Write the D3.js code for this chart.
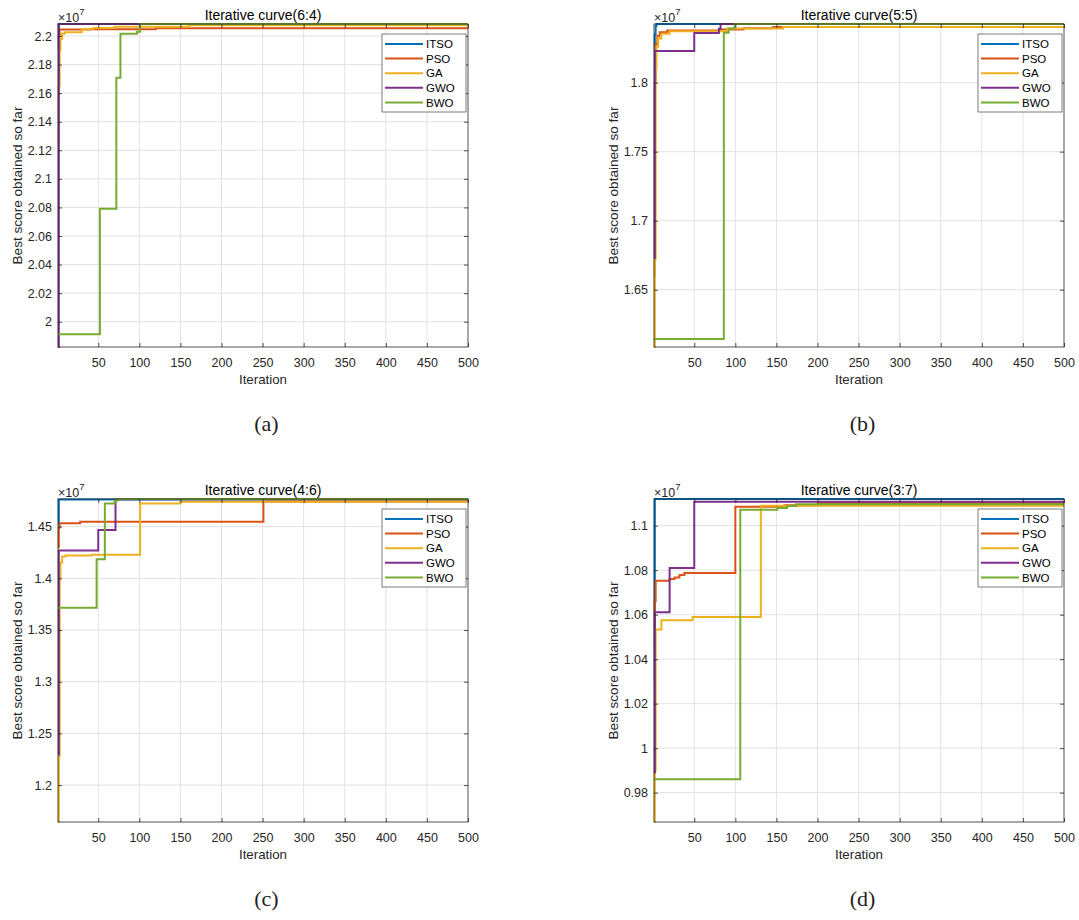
<!DOCTYPE html>
<html><head><meta charset="utf-8">
<script src="https://cdn.jsdelivr.net/npm/d3@7"></script>
<style>body{margin:0;background:#fff} svg{display:block}</style>
</head><body>
<svg id="chart" width="1079" height="920"></svg>
<script>
// ---------- DATA (scores in units of 1e7) ----------
const seriesNames = ["ITSO", "PSO", "GA", "GWO", "BWO"];
const seriesColors = ["#0072BD", "#D95319", "#EDB120", "#7E2F8E", "#77AC30"];
const xTicks = [50, 100, 150, 200, 250, 300, 350, 400, 450, 500];
const iterRange = [1, 500];
const panelTitles = ["Iterative curve(6:4)", "Iterative curve(5:5)", "Iterative curve(4:6)", "Iterative curve(3:7)"];
const panelCaptions = ["(a)", "(b)", "(c)", "(d)"];

const yTicks_a = [2, 2.02, 2.04, 2.06, 2.08, 2.1, 2.12, 2.14, 2.16, 2.18, 2.2];
const yTicks_b = [1.65, 1.7, 1.75, 1.8];
const yTicks_c = [1.2, 1.25, 1.3, 1.35, 1.4, 1.45];
const yTicks_d = [0.98, 1, 1.02, 1.04, 1.06, 1.08, 1.1];

// (a) 6:4  — [iteration, best score]
const itso_a = [[1, 2.190], [2, 2.2084], [500, 2.2084]];
const pso_a  = [[1, 2.1975], [2, 2.2000], [3, 2.2045], [40, 2.2048], [120, 2.2055], [500, 2.2055]];
const ga_a   = [[1, 2.125], [2, 2.165], [3, 2.190], [4, 2.198], [6, 2.2015], [9, 2.2026], [30, 2.2047], [44, 2.2056], [70, 2.2065], [160, 2.2075], [500, 2.2075]];
const gwo_a  = [[1, 1.9823], [2, 2.2084], [500, 2.2084]];
const bwo_a  = [[1, 1.9912], [52, 2.0790], [72, 2.1708], [77, 2.2016], [97, 2.2030], [101, 2.2084], [500, 2.2084]];

// (b) 5:5
const itso_b = [[1, 1.8237], [2, 1.8350], [3, 1.8410], [4, 1.8425], [500, 1.8425]];
const pso_b  = [[1, 1.660], [2, 1.800], [3, 1.828], [5, 1.834], [8, 1.8365], [17, 1.8378], [80, 1.8385], [110, 1.8395], [146, 1.8403], [500, 1.8405]];
const ga_b   = [[1, 1.6085], [2, 1.672], [3, 1.810], [4, 1.826], [6, 1.832], [10, 1.8355], [20, 1.8372], [90, 1.8392], [158, 1.8403], [500, 1.8403]];
const gwo_b  = [[1, 1.673], [2, 1.8230], [50, 1.8360], [80, 1.8390], [82, 1.8425], [500, 1.8425]];
const bwo_b  = [[1, 1.6143], [86, 1.8362], [92, 1.8392], [99, 1.8425], [500, 1.8425]];

// (c) 4:6
const itso_c = [[1, 1.452], [2, 1.4762], [500, 1.4762]];
const pso_c  = [[1, 1.430], [2, 1.449], [3, 1.4533], [28, 1.4548], [251, 1.4742], [500, 1.4742]];
const ga_c   = [[1, 1.1643], [2, 1.228], [3, 1.400], [4, 1.4153], [6, 1.4210], [10, 1.4220], [42, 1.4228], [101, 1.4724], [150, 1.4740], [500, 1.4740]];
const gwo_c  = [[1, 1.2296], [2, 1.4268], [50, 1.4468], [71, 1.4764], [500, 1.4764]];
const bwo_c  = [[1, 1.3716], [48, 1.4184], [58, 1.4724], [70, 1.4752], [74, 1.4767], [500, 1.4767]];

// (d) 3:7
const itso_d = [[1, 1.030], [2, 1.1120], [500, 1.1120]];
const pso_d  = [[1, 1.045], [2, 1.066], [3, 1.0752], [20, 1.0760], [26, 1.0767], [32, 1.0778], [38, 1.0787], [100, 1.1085], [160, 1.1092], [200, 1.1102], [500, 1.1102]];
const ga_d   = [[1, 0.9668], [2, 0.990], [3, 1.0533], [10, 1.0575], [48, 1.0590], [131, 1.1090], [500, 1.1090]];
const gwo_d  = [[1, 0.989], [2, 1.0611], [20, 1.0810], [50, 1.1108], [500, 1.1108]];
const bwo_d  = [[1, 0.9860], [106, 1.1072], [151, 1.1080], [163, 1.1088], [174, 1.1096], [500, 1.1096]];

const panelSeries = [
  [itso_a, pso_a, ga_a, gwo_a, bwo_a],
  [itso_b, pso_b, ga_b, gwo_b, bwo_b],
  [itso_c, pso_c, ga_c, gwo_c, bwo_c],
  [itso_d, pso_d, ga_d, gwo_d, bwo_d]
];
const panelYTicks = [yTicks_a, yTicks_b, yTicks_c, yTicks_d];

// ---------- LAYOUT ----------
const boxes = [
  {left: 58,  right: 468,  top: 24,  bottom: 347},
  {left: 654, right: 1064, top: 24,  bottom: 347},
  {left: 58,  right: 468,  top: 499, bottom: 822},
  {left: 654, right: 1064, top: 499, bottom: 822}
];
const SANS = "'Liberation Sans', Arial, Helvetica, sans-serif";
const AX = "#262626";
const svg = d3.select("#chart");
svg.append("rect").attr("width", 1079).attr("height", 920).attr("fill", "#fff");

const fmt = v => String(Math.round(v * 100) / 100);

panelSeries.forEach((series, i) => {
  const b = boxes[i];
  const g = svg.append("g");
  const x = d3.scaleLinear().domain(iterRange).range([b.left, b.right]);
  const vals = series.flat().map(d => d[1]);
  const y = d3.scaleLinear().domain(d3.extent(vals)).range([b.bottom, b.top]);
  const yT = panelYTicks[i];

  // grid
  g.append("g").selectAll("line").data(xTicks.filter(t => t < iterRange[1])).join("line")
    .attr("x1", d => x(d)).attr("x2", d => x(d)).attr("y1", b.top).attr("y2", b.bottom)
    .attr("stroke", "#e2e2e2").attr("stroke-width", 1);
  g.append("g").selectAll("line").data(yT).join("line")
    .attr("y1", d => y(d)).attr("y2", d => y(d)).attr("x1", b.left).attr("x2", b.right)
    .attr("stroke", "#e2e2e2").attr("stroke-width", 1);

  // curves
  const line = d3.line().x(d => x(d[0])).y(d => y(d[1])).curve(d3.curveStepAfter);
  g.append("g").selectAll("path").data(series).join("path")
    .attr("d", d => line(d)).attr("fill", "none")
    .attr("stroke", (d, k) => seriesColors[k]).attr("stroke-width", 2)
    .attr("stroke-linejoin", "miter");

  // axes
  const styleAxis = sel => {
    sel.select(".domain").remove();
    sel.selectAll(".tick line").attr("stroke", AX).attr("stroke-width", 0.8);
    sel.selectAll("text").attr("fill", AX).style("font-family", SANS).style("font-size", "12.5px");
  };
  g.append("g").attr("transform", `translate(0,${b.bottom})`)
    .call(d3.axisBottom(x).tickValues(xTicks).tickFormat(d3.format("d")).tickSize(-4).tickPadding(11))
    .call(styleAxis);
  g.append("g").attr("transform", `translate(0,${b.top})`)
    .call(d3.axisTop(x).tickValues(xTicks).tickFormat("").tickSize(-4))
    .call(styleAxis);
  g.append("g").attr("transform", `translate(${b.left},0)`)
    .call(d3.axisLeft(y).tickValues(yT).tickFormat(fmt).tickSize(-4).tickPadding(6))
    .call(styleAxis);
  g.append("g").attr("transform", `translate(${b.right},0)`)
    .call(d3.axisRight(y).tickValues(yT).tickFormat("").tickSize(-4))
    .call(styleAxis);

  // box
  g.append("rect").attr("x", b.left).attr("y", b.top)
    .attr("width", b.right - b.left).attr("height", b.bottom - b.top)
    .attr("fill", "none").attr("stroke", AX).attr("stroke-width", 0.8);

  // exponent label
  const ex = g.append("text").attr("x", b.left).attr("y", b.top - 2.5)
    .attr("fill", AX).style("font-family", SANS).style("font-size", "12.5px");
  ex.append("tspan").text("\u00d710");
  ex.append("tspan").attr("dy", -6.5).style("font-size", "9.5px").text("7");

  // title
  g.append("text").attr("x", (b.left + b.right) / 2).attr("y", b.top - 4)
    .attr("text-anchor", "middle").attr("fill", "#000")
    .style("font-family", SANS).style("font-size", "14px").text(panelTitles[i]);

  // x label
  g.append("text").attr("x", (b.left + b.right) / 2).attr("y", b.bottom + 37)
    .attr("text-anchor", "middle").attr("fill", AX)
    .style("font-family", SANS).style("font-size", "13.3px").text("Iteration");

  // y label
  g.append("text").attr("transform", `translate(${b.left - 36},${(b.top + b.bottom) / 2}) rotate(-90)`)
    .attr("text-anchor", "middle").attr("fill", AX)
    .style("font-family", SANS).style("font-size", "13.6px").text("Best score obtained so far");

  // legend
  const lw = 84, lh = 78;
  const lx = b.right - 2 - lw, ly = b.top + 10;
  const lg = g.append("g");
  lg.append("rect").attr("x", lx).attr("y", ly).attr("width", lw).attr("height", lh)
    .attr("fill", "#fff").attr("stroke", AX).attr("stroke-width", 0.6);
  seriesNames.forEach((name, k) => {
    const yy = ly + 10 + k * 14.6;
    lg.append("line").attr("x1", lx + 3).attr("x2", lx + 41).attr("y1", yy).attr("y2", yy)
      .attr("stroke", seriesColors[k]).attr("stroke-width", 2);
    lg.append("text").attr("x", lx + 44).attr("y", yy).attr("dy", "0.36em")
      .attr("fill", "#000").style("font-family", SANS).style("font-size", "11.5px").text(name);
  });

  // caption
  svg.append("text").attr("x", (b.left + b.right) / 2 + 3.5).attr("y", b.bottom + 84)
    .attr("text-anchor", "middle").attr("fill", "#222")
    .style("font-family", "'Liberation Serif', 'Times New Roman', serif").style("font-size", "22px")
    .text(panelCaptions[i]);
});
</script>
</body></html>
